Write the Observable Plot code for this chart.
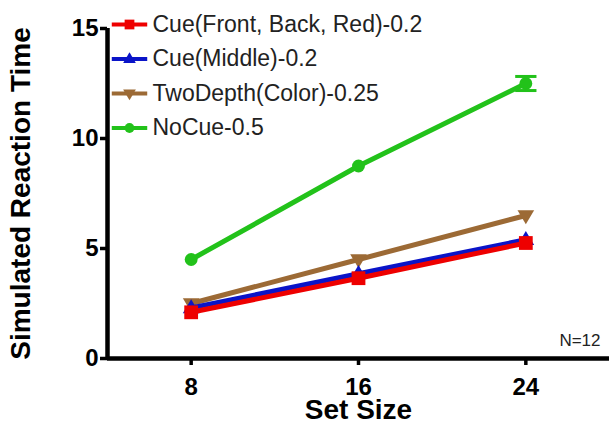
<!DOCTYPE html>
<html><head><meta charset="utf-8">
<script src="https://cdn.jsdelivr.net/npm/d3@7"></script>
<script src="https://cdn.jsdelivr.net/npm/@observablehq/plot@0.6"></script>
<style>
body{margin:0;background:#fff;font-family:"Liberation Sans",Arial,sans-serif;}
</style></head>
<body><div id="chart"></div>
<script>
const setSizes = [8, 16, 24];
const seriesNames = ["Cue(Front, Back, Red)-0.2", "Cue(Middle)-0.2", "TwoDepth(Color)-0.25", "NoCue-0.5"];
const seriesColors = ["#ee0000", "#0a14c8", "#9c6a35", "#22c21a"];
const seriesSymbols = ["square", "triangle", "triangle2", "circle"];
const cueFront = [2.1, 3.65, 5.25];
const cueMiddle = [2.3, 3.85, 5.4];
const twoDepth = [2.5, 4.5, 6.5];
const noCue = [4.5, 8.75, 12.5];
const noCueErr = [0, 0, 0.32];
const yTicks = [0, 5, 10, 15];
const yLabel = "Simulated Reaction Time";
const xLabel = "Set Size";
const nLabel = "N=12";

const triDown = {draw(ctx, size){ const s = Math.sqrt(size)*0.8; ctx.moveTo(0, s); ctx.lineTo(s*0.95, -s*0.6); ctx.lineTo(-s*0.95, -s*0.6); ctx.closePath(); }};
const triUp = {draw(ctx, size){ const s = Math.sqrt(size)*0.8; ctx.moveTo(0, -s); ctx.lineTo(s*0.95, s*0.6); ctx.lineTo(-s*0.95, s*0.6); ctx.closePath(); }};
const capSym = {draw(ctx, size){ const s = Math.sqrt(size); ctx.moveTo(-s, 0); ctx.lineTo(s, 0); }};
const symFor = {square: "square", triangle: triUp, triangle2: triDown, circle: "circle"};
const symSize = {square: 190, triangle: 120, triangle2: 120, circle: 130};
const legSize = {square: 95, triangle: 70, triangle2: 70, circle: 75};

const allValues = [cueFront, cueMiddle, twoDepth, noCue];
const data = [];
allValues.forEach((vals, i) => vals.forEach((v, j) => data.push({series: seriesNames[i], idx: i, x: setSizes[j], y: v})));
const errData = noCue.map((v, j) => ({x: setSizes[j], lo: v - noCueErr[j], hi: v + noCueErr[j]})).filter((d, j) => noCueErr[j] > 0);

const marks = [
  Plot.ruleX(errData, {x: "x", y1: "lo", y2: "hi", stroke: seriesColors[3], strokeWidth: 3}),
  Plot.dot(errData, {x: "x", y: "lo", symbol: capSym, r: 6, stroke: seriesColors[3], strokeWidth: 3}),
  Plot.dot(errData, {x: "x", y: "hi", symbol: capSym, r: 6, stroke: seriesColors[3], strokeWidth: 3}),
];
[3, 2, 1, 0].forEach(i => {
  const d = data.filter(e => e.idx === i);
  marks.push(Plot.line(d, {x: "x", y: "y", stroke: seriesColors[i], strokeWidth: 5}));
  marks.push(Plot.dot(d, {x: "x", y: "y", fill: seriesColors[i], stroke: "none", symbol: symFor[seriesSymbols[i]], r: Math.sqrt(symSize[seriesSymbols[i]]/Math.PI)}));
});
// legend (inside the SVG, anchored to the frame's top-left corner)
seriesNames.forEach((name, i) => {
  const dy = -4 + i * 34.5;
  marks.push(Plot.dot([name], {frameAnchor: "top-left", dx: 22, dy, symbol: capSym, r: 10, stroke: seriesColors[i], strokeWidth: 4}));
  marks.push(Plot.dot([name], {frameAnchor: "top-left", dx: 22, dy, symbol: symFor[seriesSymbols[i]], r: Math.sqrt(legSize[seriesSymbols[i]]/Math.PI), fill: seriesColors[i], stroke: "none"}));
  marks.push(Plot.text([name], {frameAnchor: "top-left", dx: 45, dy, text: d => d, textAnchor: "start", lineAnchor: "middle", fontSize: 23, fill: "#222"}));
});
marks.push(Plot.text([nLabel], {frameAnchor: "bottom-right", dx: -9, dy: -18, text: d => d, textAnchor: "end", lineAnchor: "middle", fontSize: 17, fill: "#222"}));
// axis titles
marks.push(Plot.text([yLabel], {frameAnchor: "left", dx: -86, rotate: -90, text: d => d, textAnchor: "middle", lineAnchor: "middle", fontSize: 28, fontWeight: "bold", fill: "#000"}));
marks.push(Plot.text([xLabel], {frameAnchor: "bottom", dy: 52, text: d => d, textAnchor: "middle", lineAnchor: "middle", fontSize: 28, fontWeight: "bold", fill: "#000"}));
const axisFrame = [{x: 4, y1: 0, y2: 15}];
marks.push(Plot.ruleY([0], {stroke: "#000", strokeWidth: 4.5}));
marks.push(Plot.ruleX(axisFrame, {x: "x", y1: "y1", y2: "y2", stroke: "#000", strokeWidth: 4.5}));
marks.push(Plot.axisY({ticks: yTicks, tickSize: 7, strokeWidth: 3.5, tickPadding: 2, fontSize: 24, fontWeight: "bold", label: null, fill: "#000"}));
marks.push(Plot.axisX({ticks: setSizes, tickSize: 7, strokeWidth: 3.5, tickPadding: 12, fontSize: 24, fontWeight: "bold", label: null, fill: "#000"}));

const chart = Plot.plot({
  width: 609, height: 431,
  marginLeft: 107, marginRight: 0, marginTop: 28, marginBottom: 73,
  style: {fontFamily: "Liberation Sans, Arial, sans-serif", color: "#000", background: "#fff", overflow: "visible"},
  x: {domain: [4, 28]},
  y: {domain: [0, 15]},
  marks
});
document.getElementById("chart").append(chart);
</script></body></html>
